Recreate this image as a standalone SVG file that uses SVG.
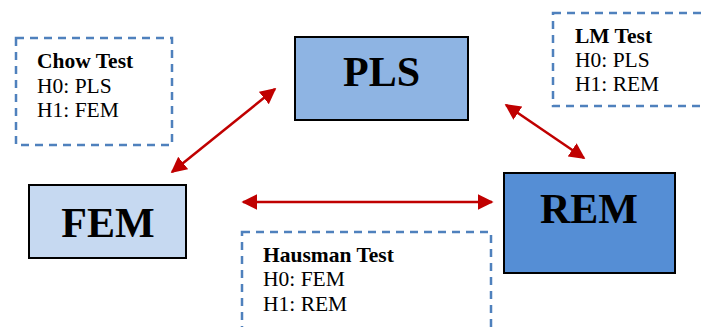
<svg xmlns="http://www.w3.org/2000/svg" width="701" height="327" viewBox="0 0 701 327">
<style>
.dash{fill:none;stroke:#4F81BD;stroke-width:2.5;stroke-dasharray:8,6}
.node{stroke:#000;stroke-width:2}
.big{font-family:"Liberation Serif",serif;font-weight:bold;font-size:42px;text-anchor:middle;fill:#000}
.t{font-family:"Liberation Serif",serif;font-size:21.5px;fill:#000}
.tb{font-weight:bold}
.conn{stroke:#C00000;stroke-width:2.5;fill:none;marker-start:url(#ah);marker-end:url(#ah)}
</style>
<defs>
<marker id="ah" viewBox="0 0 10 10" refX="9" refY="5" markerUnits="userSpaceOnUse" markerWidth="16" markerHeight="16" orient="auto-start-reverse">
<path d="M0,0 L10,5 L0,10 z" fill="#C00000"/>
</marker>
</defs>
<rect width="701" height="327" fill="#fff"/>
<g id="chow">
<rect class="dash" x="16" y="38" width="156" height="107"/>
<text class="t tb" x="37" y="68">Chow Test</text>
<text class="t" x="37" y="93">H0: PLS</text>
<text class="t" x="37" y="117">H1: FEM</text>
</g>
<g id="lm">
<rect class="dash" x="553" y="13" width="160" height="93"/>
<text class="t tb" x="575" y="43">LM Test</text>
<text class="t" x="575" y="67">H0: PLS</text>
<text class="t" x="575" y="91">H1: REM</text>
</g>
<g id="hausman">
<rect class="dash" x="242" y="232" width="249" height="110"/>
<text class="t tb" x="263" y="262">Hausman Test</text>
<text class="t" x="263" y="286">H0: FEM</text>
<text class="t" x="263" y="311">H1: REM</text>
</g>
<g id="pls">
<rect class="node" x="295" y="37" width="173" height="83" fill="#8EB4E3"/>
<text class="big" x="381.5" y="86">PLS</text>
</g>
<g id="fem">
<rect class="node" x="29" y="185" width="157" height="73" fill="#C6D9F1"/>
<text class="big" x="108" y="237">FEM</text>
</g>
<g id="rem">
<rect class="node" x="504" y="173" width="171" height="100" fill="#558ED5"/>
<text class="big" x="589" y="223">REM</text>
</g>
<g id="connectors">
<line class="conn" x1="172" y1="172" x2="275" y2="89"/>
<line class="conn" x1="506" y1="105" x2="584" y2="158"/>
<line class="conn" x1="243" y1="202" x2="492" y2="202"/>
</g>
</svg>
